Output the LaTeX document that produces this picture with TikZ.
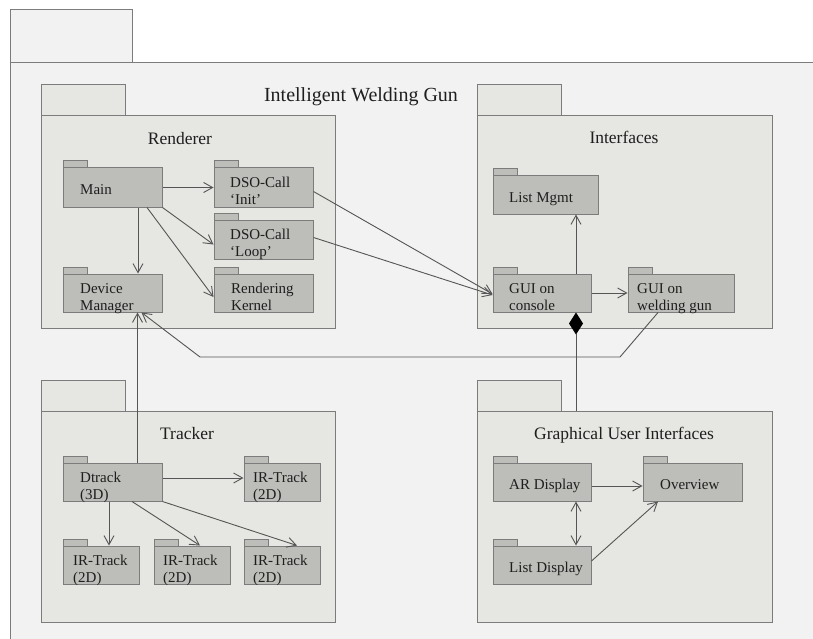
\documentclass[tikz,border=0pt]{standalone}
\usepackage{fontspec}
\setmainfont{Liberation Serif}
\usetikzlibrary{arrows.meta,calc}
\definecolor{bgc}{HTML}{F2F2F2}
\definecolor{pkgc}{HTML}{E6E6E2}
\definecolor{boxc}{HTML}{BDBDB9}
\definecolor{edgec}{HTML}{7C7C7C}
\definecolor{linec}{HTML}{555555}
\definecolor{txtc}{HTML}{1E1E1E}
\tikzset{
  frameline/.style={draw=edgec, fill=bgc, line width=1pt},
  pkgbody/.style={draw=edgec, fill=pkgc, line width=1pt, inner sep=0pt, rectangle},
  pkgtab/.style={draw=edgec, fill=pkgc, line width=1pt},
  boxbody/.style={draw=edgec, fill=boxc, line width=1pt, inner sep=0pt, rectangle},
  boxtab/.style={draw=edgec, fill=boxc, line width=1pt},
  boxtext/.style={font=\fontsize{15}{17}\selectfont, text=txtc, align=left, inner sep=0pt, anchor=north west},
  pkgtitle/.style={font=\fontsize{17.5}{20}\selectfont, text=txtc, inner sep=0pt, anchor=base},
  maintitle/.style={font=\fontsize{20}{24}\selectfont, text=txtc, inner sep=0pt, anchor=base},
  arr/.style={draw=linec, line width=0.9pt, -{Straight Barb[length=9pt,width=10pt]}},
  biarr/.style={draw=linec, line width=0.9pt, {Straight Barb[length=9pt,width=10pt]}-{Straight Barb[length=9pt,width=10pt]}},
  plain/.style={draw=linec, line width=0.9pt},
  compo/.style={draw=linec, line width=0.9pt, -{Diamond[length=22pt,width=14pt,fill=black,color=black]}}
}
\newcommand{\pkgnode}[6]{%
  \draw[pkgtab] (#2,{#3-31}) rectangle ({#2+84},#3);
  \node[pkgbody, minimum width={#4-#2}, minimum height={#5-#3}] (#1) at ({(#2+#4)/2},{(#3+#5)/2}) {};
}
\newcommand{\ibox}[8]{%
  \draw[boxtab] (#2,{#3-7}) rectangle ({#2+24},#3);
  \node[boxbody, minimum width={#4-#2}, minimum height={#5-#3}] (#1) at ({(#2+#4)/2},{(#3+#5)/2}) {};
  \node[boxtext] (#1-t) at (#6,#7) {#8};
}
\begin{document}
\begin{tikzpicture}[x=1pt,y=-1pt]
\useasboundingbox (0,0) rectangle (813,639);
\fill[white] (0,0) rectangle (813,639);
\clip (0,0) rectangle (813,639);
% outer frame
\draw[frameline] (10,10) rectangle (132,63);
\draw[frameline] (10,63) rectangle (840,670);
\node[maintitle] (title) at (361,102) {Intelligent Welding Gun};
% packages
\pkgnode{rend}{41}{116}{335}{328}{}
\pkgnode{intf}{477}{116}{772}{328}{}
\pkgnode{trk}{41}{411}{335}{622}{}
\pkgnode{gui}{477}{411}{772}{622}{}
\node[pkgtitle] (rend-t) at (180,145) {Renderer};
\node[pkgtitle] (intf-t) at (624,144) {Interfaces};
\node[pkgtitle] (trk-t) at (187,439) {Tracker};
\node[pkgtitle] (gui-t) at (624,439) {Graphical User Interfaces};
% renderer contents
\ibox{main}{63}{168}{162}{207}{80}{184}{Main}
\ibox{dsoI}{214}{168}{313}{207}{230}{177}{DSO-Call\\‘Init’}
\ibox{dsoL}{214}{220}{313}{259}{230}{229}{DSO-Call\\‘Loop’}
\ibox{rk}{214}{274}{313}{312}{231}{283}{Rendering\\Kernel}
\ibox{dev}{63}{274}{162}{312}{80}{283}{Device\\Manager}
% interfaces contents
\ibox{lm}{493}{176}{598}{214}{509}{192}{List Mgmt}
\ibox{guic}{493}{274}{591}{312}{509}{283}{GUI on\\console}
\ibox{guiw}{628}{274}{734}{312}{637}{283}{GUI on\\welding gun}
% tracker contents
\ibox{dtr}{63}{463}{162}{501}{80}{472}{Dtrack\\(3D)}
\ibox{irA}{244}{463}{320}{501}{253}{472}{IR-Track\\(2D)}
\ibox{irB}{63}{546}{139}{584}{73}{555}{IR-Track\\(2D)}
\ibox{irC}{154}{546}{230}{584}{163}{555}{IR-Track\\(2D)}
\ibox{irD}{244}{546}{320}{584}{253}{555}{IR-Track\\(2D)}
% GUI contents
\ibox{ar}{493}{463}{591}{501}{509}{479}{AR Display}
\ibox{ov}{643}{463}{742}{501}{660}{479}{Overview}
\ibox{ld}{493}{546}{591}{584}{509}{562}{List Display}
% connectors in renderer
\draw[arr] (main.east) -- (dsoI.west);
\draw[arr] (main.south east) -- ($(dsoL.west)+(0,5)$);
\draw[arr] ($(main.south)+(34.5,0)$) -- ($(rk.west)+(0,4)$);
\draw[arr] ($(main.south)+(25.5,0)$) -- ($(dev.north)+(25.5,0)$);
% renderer to interfaces
\draw[arr] ($(dsoI.east)+(0,4)$) -- ($(guic.west)+(0,1)$);
\draw[arr] ($(dsoL.east)+(0,-2)$) -- ($(guic.west)+(0,2)$);
% interfaces
\draw[arr] (guic.east) -- (guiw.west);
\draw[arr] ($(guic.north)+(34,0)$) -- ($(lm.south)+(30.5,0)$);
\draw[compo] ($(gui.north)+(-48.5,0)$) -- ($(guic.south)+(34,0)$);
% welding gun to device manager
\coordinate (bendA) at (620,357);
\coordinate (bendB) at (200,357);
\draw[arr] ($(guiw.south)+(-23,0)$) -- (bendA) -- (bendB) -- ($(dev.south)+(29,0)$);
% tracker
\draw[arr] ($(dtr.north)+(25,0)$) -- ($(dev.south)+(25,0)$);
\draw[arr] ($(dtr.east)+(0,-4)$) -- ($(irA.west)+(0,-4)$);
\draw[arr] ($(dtr.south)+(-3.5,0)$) -- ($(irB.north)+(8,0)$);
\draw[arr] ($(dtr.south)+(19.5,0)$) -- ($(irC.north)+(8,0)$);
\draw[arr] (dtr.south east) -- ($(irD.north)+(15,0)$);
% GUI
\draw[arr] ($(ar.east)+(0,4)$) -- ($(ov.west)+(0,4)$);
\draw[biarr] ($(ar.south)+(34,0)$) -- ($(ld.north)+(34,0)$);
\draw[arr] ($(ld.east)+(0,-4)$) -- ($(ov.south)+(-34.5,0)$);
\end{tikzpicture}
\end{document}
